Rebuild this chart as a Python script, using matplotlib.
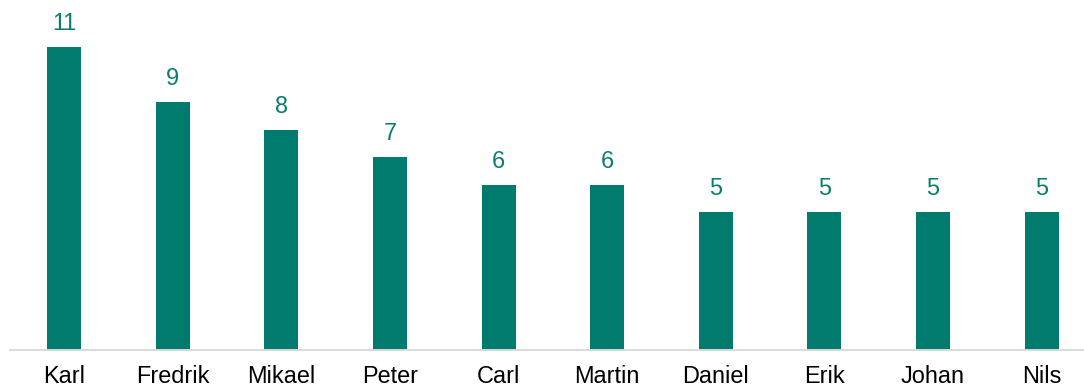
import matplotlib
matplotlib.use("Agg")
import matplotlib.pyplot as plt

names = ["Karl", "Fredrik", "Mikael", "Peter", "Carl", "Martin", "Daniel", "Erik", "Johan", "Nils"]
counts = [11, 9, 8, 7, 6, 6, 5, 5, 5, 5]

plt.rcParams['font.family'] = ['Liberation Sans', 'DejaVu Sans']
bar_color = "#007B6E"
label_color = "#0A7D70"

W, H = 1084, 387
fig = plt.figure(figsize=(W / 100, H / 100), dpi=100)
left = 10 / W
bottom = (H - 350) / H
ax = fig.add_axes([left, bottom, 1 - left, (350 - 6) / H])

x = list(range(len(names)))
bars = ax.bar(x, counts, width=0.313, color=bar_color)
ax.set_xlim(-0.5, 9.39)
ax.set_ylim(0, 344 / 27.52)

for xi, v in zip(x, counts):
    ax.annotate(str(v), xy=(xi, v), xytext=(0, 12.2), textcoords="offset points",
                ha="center", va="baseline", fontsize=16.9, color=label_color)

ax.set_xticks(x)
ax.set_xticklabels(names, fontsize=16.9, color="#000000")
ax.tick_params(axis="x", length=0, pad=10.5)
ax.set_yticks([])
for s in ["top", "right", "left"]:
    ax.spines[s].set_visible(False)
ax.spines["bottom"].set_color("#D9D9D9")
ax.spines["bottom"].set_linewidth(1.4)

fig.savefig("out.png", dpi=100)
